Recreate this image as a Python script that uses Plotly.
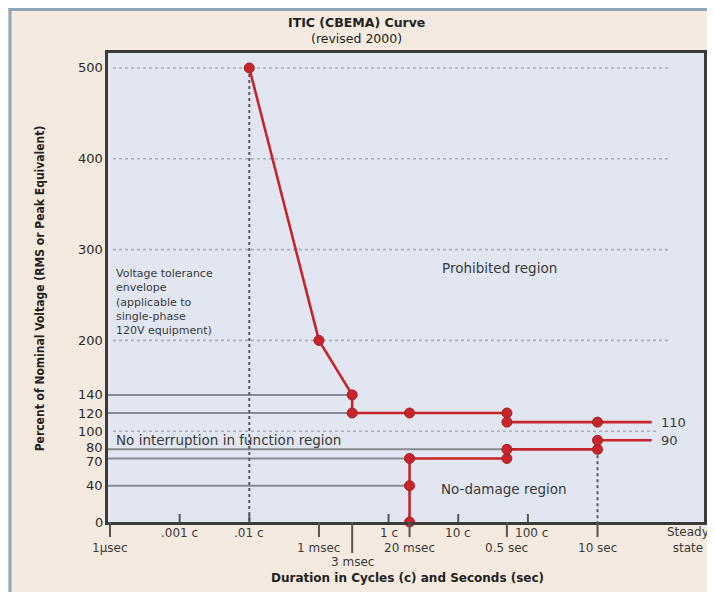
import numpy as np
import plotly.graph_objects as go

# ---------------- data ----------------
upper_x = [1e-4, 1e-3, 3e-3, 3e-3, 2e-2, 0.5, 0.5, 10, 60]      # seconds
upper_y = [500, 200, 140, 120, 120, 120, 110, 110, 110]          # percent
lower_x = [2e-2, 2e-2, 2e-2, 0.5, 0.5, 10, 10, 60]
lower_y = [0, 40, 70, 70, 80, 80, 90, 90]

y_tick_vals = [0, 40, 70, 80, 100, 120, 140, 200, 300, 400, 500]
cycle_tick_vals = [1e-5, 1e-4, 1e-2, 1e-1, 1]
cycle_tick_text = [".001 c", ".01 c", "1 c", "10 c", "100 c"]
time_tick_vals = [1e-6, 1e-3, 3e-3, 2e-2, 0.5, 10]
time_tick_text = ["1\u00b5sec", "1 msec", "3 msec", "20 msec", "0.5 sec", "10 sec"]
steady_x = 200
steady_text = ["Steady", "state"]

dotted_grid_y = [100, 200, 300, 400, 500]
ref_line_y = [140, 120, 80, 70, 40]
ref_line_x_end = [3e-3, 3e-3, 0.5, 2e-2, 2e-2]
vline_x = [1e-4, 10]
vline_top = [500, 80]
end_labels = ["110", "90"]
end_label_y = [110, 90]

tolerance_lines = ["Voltage tolerance", "envelope", "(applicable to",
                   "single-phase", "120V equipment)"]

# ---------------- geometry / style ----------------
OFF = 8                      # page body margin (px) in the browser
W, H = 707, 584
ML, MR, MT, MB = 100, 8, 45, 70
PW, PH = W - ML - MR, H - MT - MB
X_RANGE = [-6.029, 2.529]
Y_RANGE = [0, 516.5]

def px(x):       # window pixel -> paper x
    return (x - OFF - ML) / PW

def py(y):       # window pixel -> paper y
    return (H - MB - (y - OFF)) / PH

RED = "#c7252b"
DARK = "#3a3a3a"
GRID_SOLID = "#878a90"
GRID_DOT = "#a9afbb"
FONT = "DejaVu Sans"

fig = go.Figure()

# reference (solid grey) lines from the y axis to the curve
x_left = 10 ** X_RANGE[0]
for yv, xe in zip(ref_line_y, ref_line_x_end):
    fig.add_trace(go.Scatter(x=[x_left, xe], y=[yv, yv], mode="lines",
                             line=dict(color=GRID_SOLID, width=2),
                             hoverinfo="skip", showlegend=False))

# vertical dotted lines
for xv, top in zip(vline_x, vline_top):
    fig.add_trace(go.Scatter(x=[xv, xv], y=[top, 0], mode="lines",
                             line=dict(color="#55585e", width=2, dash="dot"),
                             hoverinfo="skip", showlegend=False))

# curve traces
for xs, ys in [(upper_x, upper_y), (lower_x, lower_y)]:
    fig.add_trace(go.Scatter(x=xs, y=ys, mode="lines",
                             line=dict(color=RED, width=2.6),
                             hoverinfo="skip", showlegend=False))
    fig.add_trace(go.Scatter(x=xs[:-1], y=ys[:-1], mode="markers",
                             marker=dict(color=RED, size=10,
                                         line=dict(color="#a81d22", width=1)),
                             cliponaxis=False, showlegend=False))

shapes = []
# dotted horizontal gridlines
for yv in dotted_grid_y:
    x1 = px(672) if yv != 100 else px(660)
    shapes.append(dict(type="line", xref="paper", yref="y", x0=px(113), x1=x1,
                       y0=yv, y1=yv, layer="below",
                       line=dict(color=GRID_DOT, width=1.6, dash="dot")))

# cycle ticks (upward, inside)
for xv in cycle_tick_vals:
    shapes.append(dict(type="line", xref="x", yref="paper", x0=xv, x1=xv,
                       y0=0, y1=8 / PH, line=dict(color="#555", width=2)))
# time ticks (downward, outside)
for xv, lab in zip(time_tick_vals, time_tick_text):
    length = 31 if lab == "3 msec" else 15
    shapes.append(dict(type="line", xref="x", yref="paper", x0=xv, x1=xv,
                       y0=0, y1=-length / PH, line=dict(color="#555", width=2)))

# outer page frame: blue-grey border
shapes += [
    dict(type="line", xref="paper", yref="paper", x0=px(9.5), x1=px(9.5),
         y0=py(8), y1=py(600), line=dict(color="#8ea6b5", width=3)),
    dict(type="line", xref="paper", yref="paper", x0=px(8), x1=px(720),
         y0=py(9.5), y1=py(9.5), line=dict(color="#8ea6b5", width=3)),
]

ann = []
def A(text, x, y, xref="paper", yref="paper", size=14, color=DARK,
      xanchor="center", yanchor="middle", weight="normal", family=FONT, **kw):
    d = dict(text=text, x=x, y=y, xref=xref, yref=yref, showarrow=False,
             xanchor=xanchor, yanchor=yanchor,
             font=dict(size=size, color=color, family=family, weight=weight))
    d.update(kw)
    ann.append(d)

# titles
A("ITIC (CBEMA) Curve", px(358), py(23), size=12.5, weight="bold", color="#222")
A("(revised 2000)", px(358), py(39), size=12.5, color="#222")
A("Duration in Cycles (c) and Seconds (sec)", px(409), py(578), size=12,
  weight="bold", color="#222")
A("Percent of Nominal Voltage (RMS or Peak Equivalent)", px(40), py(288),
  size=12, weight="bold", color="#222", textangle=-90,
  family="DejaVu Sans Condensed")

# y tick labels (80 / 70 nudged apart as in the original)
y_nudge = {80: 2, 70: -3}
for v in y_tick_vals:
    A(str(v), 0, v, xref="paper", yref="y", size=13, color="#2a2a2a",
      xanchor="right", xshift=-3, yshift=y_nudge.get(v, 0))

# x tick labels
for xv, lab in zip(cycle_tick_vals, cycle_tick_text):
    sh = 4 if lab == "100 c" else 0
    A(lab, np.log10(xv), py(533), xref="x", size=12, xshift=sh)
for xv, lab in zip(time_tick_vals, time_tick_text):
    yy = py(562) if lab == "3 msec" else py(548)
    A(lab, np.log10(xv), yy, xref="x", size=12)
A("<br>".join(steady_text), np.log10(steady_x), py(540), xref="x", size=12)

# end labels
for t, yv in zip(end_labels, end_label_y):
    A(t, np.log10(upper_x[-1]), yv, xref="x", yref="y", size=13,
      xanchor="left", xshift=7)

# region labels
A("Prohibited region", px(501), 280, yref="y", size=13.5)
A("No interruption in function region", px(114), 90.5, yref="y", size=13.5,
  xanchor="left")
A("No-damage region", px(506), 36, yref="y", size=13.5)
A("<br>".join(tolerance_lines), px(114), py(265), size=11, xanchor="left",
  yanchor="top", align="left")

fig.update_layout(
    width=W, height=H,
    margin=dict(l=ML, r=MR, t=MT, b=MB, pad=0),
    paper_bgcolor="#f5eadf",
    plot_bgcolor="#e1e6f1",
    showlegend=False,
    shapes=shapes,
    annotations=ann,
    font=dict(family=FONT, color=DARK),
    xaxis=dict(type="log", range=X_RANGE, showgrid=False, zeroline=False,
               showticklabels=False, ticks="", showline=True, mirror=True,
               linecolor="#3b3b3b", linewidth=2.5),
    yaxis=dict(range=Y_RANGE, showgrid=False, zeroline=False,
               showticklabels=False, ticks="",
               showline=True, mirror=True, linecolor="#3b3b3b", linewidth=2.5),
)

fig.write_html("out.html")
